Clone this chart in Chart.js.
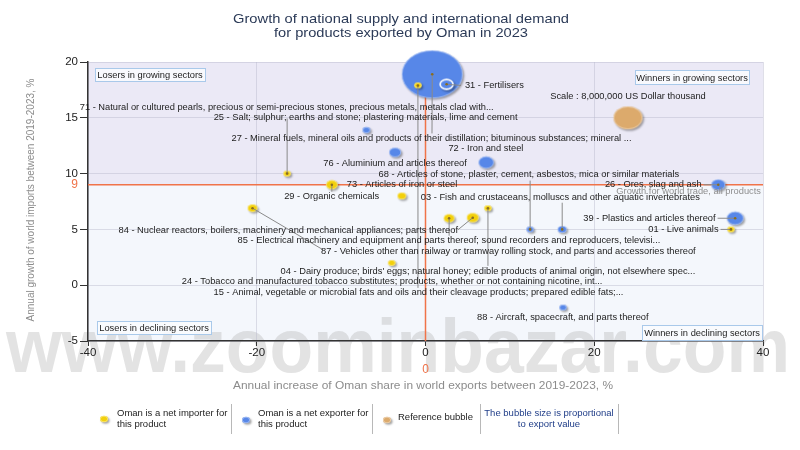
<!DOCTYPE html>
<html><head><meta charset="utf-8">
<script src="https://cdn.jsdelivr.net/npm/chart.js@4/dist/chart.umd.min.js"></script>
<style>html,body{margin:0;padding:0;background:#fff;}#wrap{width:800px;height:450px;position:relative;}</style>
</head><body><div id="wrap"><canvas id="c"></canvas></div>
<script>
// ---------- DATA ----------
const productCodes = ['27','31','15','71','25','76','72','68','73','29','03','26','39','01','84','85','87','04','24','88'];
const productNames = [
 'Mineral fuels, mineral oils and products of their distillation; bituminous substances; mineral ...',
 'Fertilisers',
 'Animal, vegetable or microbial fats and oils and their cleavage products; prepared edible fats;...',
 'Natural or cultured pearls, precious or semi-precious stones, precious metals, metals clad with...',
 'Salt; sulphur; earths and stone; plastering materials, lime and cement',
 'Aluminium and articles thereof',
 'Iron and steel',
 'Articles of stone, plaster, cement, asbestos, mica or similar materials',
 'Articles of iron or steel',
 'Organic chemicals',
 'Fish and crustaceans, molluscs and other aquatic invertebrates',
 'Ores, slag and ash',
 'Plastics and articles thereof',
 'Live animals',
 'Nuclear reactors, boilers, machinery and mechanical appliances; parts thereof',
 'Electrical machinery and equipment and parts thereof; sound recorders and reproducers, televisi...',
 'Vehicles other than railway or tramway rolling stock, and parts and accessories thereof',
 "Dairy produce; birds' eggs; natural honey; edible products of animal origin, not elsewhere spec...",
 'Tobacco and manufactured tobacco substitutes; products, whether or not containing nicotine, int...',
 'Aircraft, spacecraft, and parts thereof'
];
// Annual increase of Oman share in world exports, %
const shareGrowth  = [0.8, 2.5, -0.9, -16.4, -7.0, -3.6, 7.2, 12.4, -2.8, -11.1, 16.2, 34.7, 36.7, 36.2, 5.6, 2.8, -20.5, 7.4, -4.0, 16.3];
// Annual growth of world imports, %
const importGrowth = [18.9, 18.0, 17.9, 10.0, 13.9, 11.9, 11.0, 5.0, 8.0, 9.0, 5.0, 9.0, 6.0, 5.0, 6.05, 6.0, 6.9, 6.9, 2.0, -2.0];
// Export value, US Dollar thousand
const exportValue  = [35000000, 2100000, 450000, 450000, 600000, 1400000, 2300000, 400000, 750000, 1300000, 780000, 1900000, 2700000, 400000, 1400000, 1150000, 950000, 400000, 400000, 350000];
// true = Oman is a net exporter, false = net importer
const netExporter  = [true, true, false, false, true, true, true, true, false, false, true, true, true, false, false, false, false, false, false, true];
const referenceValue = 8000000;
const referenceX = 24.0, referenceY = 15.0;
const worldTradeGrowth = 9;
const xTickValues = [-40, -20, 0, 20, 40];
const yTickValues = [-5, 0, 5, 10, 15, 20];

// label anchors (data units) and leader-line ends
const labelX = [0.71, 4.67, -0.83, -16.45, -7.1, -3.61, 7.16, 12.25, -2.78, -11.12, 15.98, 32.72, 34.38, 34.73, -16.27, 2.78, 9.82, 7.4, -3.96, 16.27];
const labelY = [13.12, 17.9, -0.63, 15.9, 15.0, 10.87, 12.22, 9.91, 9.01, 7.93, 7.82, 9.01, 5.98, 4.97, 4.88, 3.98, 3.02, 1.22, 0.30, -2.91];
const labelAlign = ['center','left','center','center','center','center','center','center','center','center','center','right','right','right','center','center','center','center','center','center'];
const leaderX = [0.77, 4.2, -0.89, -16.4, null, null, null, 12.4, null, -11.1, 16.2, 32.96, 34.62, 34.97, 3.85, 2.8, -12.13, 7.4, null, null];
const leaderY = [13.6, 17.9, -0.24, 14.94, null, null, null, 9.37, null, 8.38, 7.39, 9.0, 6.0, 5.0, 4.97, 4.43, 3.17, 1.73, null, null];

// ---------- STYLE ----------
const FONT = "'Liberation Sans', Arial, sans-serif";
const COL_IMP = '#f2d00c', COL_EXP = '#5787e8', COL_REF = '#dcaa6c';
const COL_ORANGE = '#f07349';
const STRETCH = 1.27;
const REF_RV = 11.5;
const highlightCode = '31';

function radiusFor(v){ return Math.max(3, REF_RV*Math.sqrt(v/referenceValue)); }
function bubbleImage(rv, fill, ring){
  const rh = rv*STRETCH, pad = 4;
  const c = document.createElement('canvas');
  c.width = Math.round(2*rh + 2*pad); c.height = Math.round(2*rv + 2*pad);
  const g = c.getContext('2d');
  const cx = c.width/2, cy = c.height/2;
  g.save();
  g.shadowColor = 'rgba(0,0,0,0.35)'; g.shadowBlur = 2; g.shadowOffsetX = 1.5; g.shadowOffsetY = 1.5;
  g.beginPath(); g.ellipse(cx, cy, rh, rv, 0, 0, Math.PI*2); g.fillStyle = fill; g.fill();
  g.restore();
  g.beginPath(); g.ellipse(cx, cy, ring ? rh-1 : rh-0.4, ring ? rv-1 : rv-0.4, 0, 0, Math.PI*2);
  g.lineWidth = ring ? 1.6 : 0.8; g.strokeStyle = ring ? '#ffffff' : 'rgba(255,255,255,0.5)'; g.stroke();
  return c;
}
const productImages = productCodes.map((c,i)=>bubbleImage(radiusFor(exportValue[i]), netExporter[i]?COL_EXP:COL_IMP, c===highlightCode));
const refImage = bubbleImage(radiusFor(referenceValue), COL_REF, false);

function fitText(ctx, txt, cx, cy, targetW){
  const w = ctx.measureText(txt).width;
  ctx.save(); ctx.translate(cx, cy); ctx.scale(targetW/w, 1);
  ctx.textAlign = 'center'; ctx.fillText(txt, 0, 0); ctx.restore();
}

const overlay = {
  id:'overlay',
  beforeDraw(chart){
    const {ctx, chartArea:a, scales:{x,y}} = chart;
    ctx.save();
    ctx.fillStyle = '#fff'; ctx.fillRect(0,0,chart.width,chart.height);
    const y9 = y.getPixelForValue(worldTradeGrowth);
    ctx.fillStyle = '#ebe9f6'; ctx.fillRect(a.left, a.top, a.right-a.left, y9-a.top);
    ctx.fillStyle = '#f4f7fc'; ctx.fillRect(a.left, y9, a.right-a.left, a.bottom-y9);
    // watermark
    ctx.font = "bold 72px " + FONT;
    const txt = 'www.zoominbazar.com';
    const w = ctx.measureText(txt).width;
    ctx.translate(6, 372); ctx.scale(784/w, 1.05);
    ctx.fillStyle = 'rgba(185,185,185,0.40)';
    ctx.textBaseline = 'alphabetic'; ctx.textAlign = 'left';
    ctx.fillText(txt, 0, 0);
    ctx.restore();
  },
  beforeDatasetsDraw(chart){
    const {ctx, chartArea:a, scales:{x,y}} = chart;
    ctx.save();
    ctx.strokeStyle = COL_ORANGE; ctx.lineWidth = 1.5;
    const x0 = x.getPixelForValue(0), y9 = y.getPixelForValue(worldTradeGrowth);
    ctx.beginPath(); ctx.moveTo(x0, a.top); ctx.lineTo(x0, a.bottom); ctx.stroke();
    ctx.beginPath(); ctx.moveTo(a.left, y9); ctx.lineTo(a.right, y9); ctx.stroke();
    ctx.restore();
  },
  afterDatasetsDraw(chart){
    const {ctx, chartArea:a, scales:{x,y}} = chart;
    ctx.save();
    ctx.font = "9.3px " + FONT; ctx.fillStyle = '#8f8f8f'; ctx.textAlign = 'right'; ctx.textBaseline = 'middle';
    ctx.fillText('Growth for world trade, all products', a.right-2, y.getPixelForValue(worldTradeGrowth)+7);
    ctx.strokeStyle = '#8a8a8a'; ctx.lineWidth = 1;
    productCodes.forEach((c,i)=>{
      if (leaderX[i] === null) return;
      const bx = x.getPixelForValue(shareGrowth[i]), by = y.getPixelForValue(importGrowth[i]);
      ctx.beginPath(); ctx.moveTo(bx, by); ctx.lineTo(x.getPixelForValue(leaderX[i]), y.getPixelForValue(leaderY[i])); ctx.stroke();
      ctx.beginPath(); ctx.arc(bx, by, 1.3, 0, Math.PI*2); ctx.fillStyle = '#8a6d20'; ctx.fill();
    });
    ctx.font = "9.3px " + FONT; ctx.fillStyle = '#1c1c1c'; ctx.textBaseline = 'middle';
    productCodes.forEach((c,i)=>{
      ctx.textAlign = labelAlign[i];
      ctx.fillText(c + ' - ' + productNames[i], x.getPixelForValue(labelX[i]), y.getPixelForValue(labelY[i]));
    });
    ctx.textAlign = 'center';
    ctx.fillText('Scale : ' + referenceValue.toLocaleString('en-US') + ' US Dollar thousand', x.getPixelForValue(referenceX), y.getPixelForValue(referenceY)-21);
    ctx.restore();
  },
  afterDraw(chart){
    const {ctx, chartArea:a, scales:{x,y}} = chart;
    ctx.save();
    ctx.fillStyle = '#2b3a57'; ctx.font = "13.5px " + FONT; ctx.textBaseline = 'middle';
    fitText(ctx, 'Growth of national supply and international demand', 401, 19, 336);
    fitText(ctx, 'for products exported by Oman in 2023', 401, 33, 254);
    ctx.fillStyle = '#8c8c8c'; ctx.font = "11.5px " + FONT;
    fitText(ctx, 'Annual increase of Oman share in world exports between 2019-2023, %', 423, 386, 380);
    ctx.save(); ctx.translate(31, 200); ctx.rotate(-Math.PI/2);
    ctx.font = "10px " + FONT; ctx.textAlign = 'center'; ctx.fillText('Annual growth of world imports between 2019-2023, %', 0, 0);
    ctx.restore();
    ctx.fillStyle = COL_ORANGE; ctx.font = "12px " + FONT; ctx.textAlign = 'center';
    ctx.fillText('0', x.getPixelForValue(0), 370);
    ctx.textAlign = 'right';
    ctx.fillText(String(worldTradeGrowth), a.left-10, y.getPixelForValue(worldTradeGrowth));
    const box = (t, bx, by, bw, bh) => {
      ctx.fillStyle = 'rgba(250,251,254,0.9)'; ctx.fillRect(bx, by, bw, bh);
      ctx.strokeStyle = '#a9c9ea'; ctx.lineWidth = 1; ctx.strokeRect(bx+0.5, by+0.5, bw, bh);
      ctx.fillStyle = '#1c1c1c'; ctx.font = "9.3px " + FONT; ctx.textAlign = 'center'; ctx.textBaseline = 'middle';
      ctx.fillText(t, bx+bw/2, by+bh/2+1);
    };
    box('Losers in growing sectors', a.left+7, a.top+6, 110, 13);
    box('Winners in growing sectors', a.right-128, a.top+8, 114, 14);
    box('Losers in declining sectors', a.left+9, a.bottom-20, 114, 13);
    box('Winners in declining sectors', a.right-121, a.bottom-16, 120, 15);
    const dot = (img, cx, cy) => ctx.drawImage(img, cx-img.width/2, cy-img.height/2);
    dot(bubbleImage(3.2, COL_IMP, false), 104, 419);
    dot(bubbleImage(3.2, COL_EXP, false), 246, 420);
    dot(bubbleImage(3.2, COL_REF, false), 387, 420);
    ctx.fillStyle = '#1c1c1c'; ctx.font = "9.5px " + FONT; ctx.textAlign = 'left'; ctx.textBaseline = 'middle';
    ctx.fillText('Oman is a net importer for', 117, 413); ctx.fillText('this product', 117, 424);
    ctx.fillText('Oman is a net exporter for', 258, 413); ctx.fillText('this product', 258, 424);
    ctx.fillText('Reference bubble', 398, 417);
    ctx.fillStyle = '#23408a'; ctx.textAlign = 'center';
    ctx.fillText('The bubble size is proportional', 549, 413); ctx.fillText('to export value', 549, 424);
    ctx.strokeStyle = '#b8b8b8'; ctx.lineWidth = 1;
    [231, 372, 480, 618].forEach(sx => { ctx.beginPath(); ctx.moveTo(sx+0.5, 404); ctx.lineTo(sx+0.5, 434); ctx.stroke(); });
    ctx.restore();
  }
};

new Chart(document.getElementById('c'), {
  type: 'bubble',
  data: { datasets: [
    { label: 'Products',
      data: productCodes.map((c,i)=>({x: shareGrowth[i], y: importGrowth[i], r: radiusFor(exportValue[i])})),
      pointStyle: ctx => productImages[ctx.dataIndex],
      clip: false },
    { label: 'Reference bubble',
      data: [{x: referenceX, y: referenceY, r: radiusFor(referenceValue)}],
      pointStyle: refImage, clip: false }
  ]},
  options: {
    responsive: true, maintainAspectRatio: false, animation: false, devicePixelRatio: 1,
    layout: { padding: { top: 62, right: 37, left: 0, bottom: 0 } },
    plugins: { legend: { display: false }, tooltip: { enabled: false } },
    scales: {
      x: { type: 'linear', min: -40, max: 40,
        afterBuildTicks: s => { s.ticks = xTickValues.map(v => ({value: v})); },
        afterFit: s => { s.height = 109; },
        ticks: { color: '#222', font: { family: FONT, size: 11.5 }, padding: 0 },
        grid: { color: 'rgba(185,185,205,0.45)', tickColor: '#333', tickLength: 5 },
        border: { color: '#333', width: 1.5 } },
      y: { type: 'linear', min: -5, max: 20,
        afterBuildTicks: s => { s.ticks = yTickValues.map(v => ({value: v})); },
        afterFit: s => { s.width = 88; },
        ticks: { color: '#222', font: { family: FONT, size: 11.5 }, padding: 2 },
        grid: { color: 'rgba(185,185,205,0.45)', tickColor: '#333', tickLength: 8 },
        border: { color: '#333', width: 1.5 } }
    }
  },
  plugins: [overlay]
});
</script>
</body></html>
